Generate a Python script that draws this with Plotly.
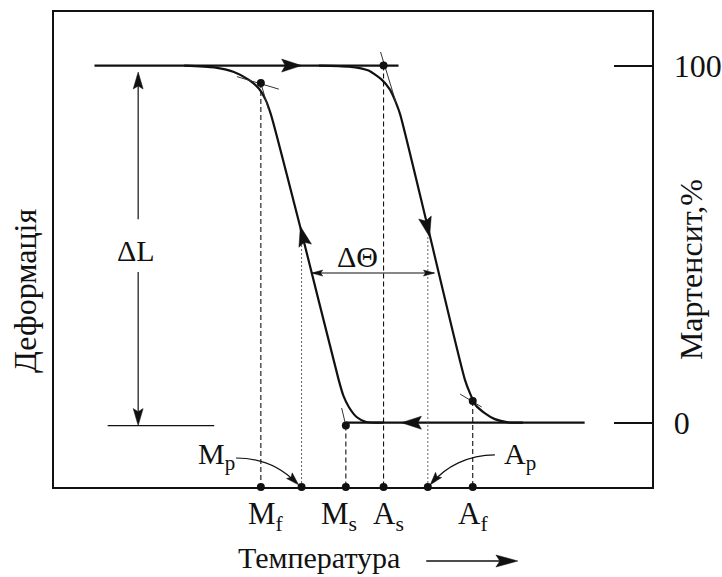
import math
import plotly.graph_objects as go

# ---- transformation temperatures (arbitrary temperature units) ----
T_MF = 34.6   # martensite finish
T_MP = 41.4   # martensite peak
T_MS = 48.8   # martensite start
T_AS = 55.1   # austenite start
T_AP = 62.5   # austenite peak
T_AF = 70.0   # austenite finish

# martensite fraction (%) where each start/finish point sits on the loop
MF_LEVEL = 95.1
MS_LEVEL = -0.8
AS_LEVEL = 100.0
AF_LEVEL = 6.1
PEAK_LEVEL = 52.0

# cooling branch: austenite -> martensite
cool_T = [21.8, 26.8, 30.1, 32.6, 34.3, 35.4, 36.3, 41.3, 47.6, 48.4, 49.3, 50.6, 52.2, 55.1]
cool_M = [100.0, 99.5, 98.2, 96.0, 93.5, 90.4, 86.2, 54.0, 12.0, 7.5, 4.4, 1.6, 0.2, 0.0]

# heating branch: martensite -> austenite
heat_T = [44.3, 49.3, 52.6, 54.7, 56.2, 57.2, 57.9, 62.6, 68.7, 69.6, 70.5, 72.0, 73.7, 75.9, 78.4]
heat_M = [100.0, 99.7, 98.6, 96.2, 93.2, 89.5, 86.2, 54.0, 12.0, 8.0, 4.9, 2.7, 1.0, 0.1, 0.0]

# plateaus: fully martensitic (top) and fully austenitic (bottom)
upper_T = [6.8, 57.6]
upper_M = [100.0, 100.0]
lower_T = [48.8, 88.7]
lower_M = [0.0, 0.0]

# deformation span and hysteresis width
DL_T = 14.1
DL_TOP, DL_BOTTOM = 98.2, -0.8
DL_GAP = (57.0, 42.2)
DL_BASE_T = [9.0, 26.8]
DTH_LEVEL = 41.9
DTH_T = [43.1, 63.6]

# tangent construction lines at the start/finish points
construction = [
    ([30.6, 37.6], [96.9, 93.4]),
    ([34.6, 35.9], [95.1, 87.6]),
    ([54.6, 57.2], [103.8, 89.5]),
    ([48.1, 48.8], [4.1, -0.8]),
    ([67.9, 71.5], [8.0, 4.4]),
]

SERIF = "Liberation Serif, Times New Roman, DejaVu Serif, serif"
INK = "#111111"

W, H = 722, 577
BOX_X = (54, 655)     # plot box, left/right pixel
BOX_Y = (487, 12)     # plot box, bottom/top pixel
X_RANGE = (0.0, 100.0)
Y_RANGE = (-18.0, 115.0)


def to_px(x, y):
    px = BOX_X[0] + (x - X_RANGE[0]) / (X_RANGE[1] - X_RANGE[0]) * (BOX_X[1] - BOX_X[0])
    py = BOX_Y[0] - (y - Y_RANGE[0]) / (Y_RANGE[1] - Y_RANGE[0]) * (BOX_Y[0] - BOX_Y[1])
    return px, py


def to_data(px, py):
    x = X_RANGE[0] + (px - BOX_X[0]) / (BOX_X[1] - BOX_X[0]) * (X_RANGE[1] - X_RANGE[0])
    y = Y_RANGE[0] + (BOX_Y[0] - py) / (BOX_Y[0] - BOX_Y[1]) * (Y_RANGE[1] - Y_RANGE[0])
    return x, y


def head_points(tip_px, tail_px, length, width, notch=0.18):
    tx, ty = tip_px
    bx, by = tail_px
    dx, dy = tx - bx, ty - by
    n = math.hypot(dx, dy)
    ux, uy = dx / n, dy / n
    nx, ny = -uy, ux
    base_x, base_y = tx - ux * length, ty - uy * length
    back_x, back_y = tx - ux * length * (1 - notch), ty - uy * length * (1 - notch)
    return [(tx, ty),
            (base_x + nx * width / 2, base_y + ny * width / 2),
            (back_x, back_y),
            (base_x - nx * width / 2, base_y - ny * width / 2)]


def data_head(tip, tail, length, width):
    pts = head_points(to_px(*tip), to_px(*tail), length, width)
    pts = [to_data(*p) for p in pts]
    path = "M" + " L".join(f"{x:.4f},{y:.4f}" for x, y in pts) + " Z"
    return dict(type="path", xref="x", yref="y", path=path, fillcolor=INK,
                line=dict(color=INK, width=0.5), layer="above")


def paper_head(tip_px, tail_px, length, width):
    pts = head_points(tip_px, tail_px, length, width)
    path = "M" + " L".join(f"{x / W:.5f},{(H - y) / H:.5f}" for x, y in pts) + " Z"
    return dict(type="path", xref="paper", yref="paper", path=path, fillcolor=INK,
                line=dict(color=INK, width=0.5), layer="above")


fig = go.Figure()


def line(xs, ys, width=2.0, dash=None, color=INK):
    fig.add_trace(go.Scatter(x=xs, y=ys, mode="lines", hoverinfo="skip",
                             line=dict(color=color, width=width, dash=dash)))


# plateaus and transformation branches
line(upper_T, upper_M, 2.2)
line(lower_T, lower_M, 2.2)
fig.add_trace(go.Scatter(x=cool_T, y=cool_M, mode="lines", hoverinfo="skip",
                         line=dict(color=INK, width=2.2, shape="spline", smoothing=0.6)))
fig.add_trace(go.Scatter(x=heat_T, y=heat_M, mode="lines", hoverinfo="skip",
                         line=dict(color=INK, width=2.2, shape="spline", smoothing=0.6)))

# construction tangents
for xs, ys in construction:
    line(xs, ys, 1.0, color="#333333")

# drop lines to the temperature axis
y_axis = Y_RANGE[0]
for t, lvl in [(T_MF, MF_LEVEL), (T_MS, MS_LEVEL), (T_AS, AS_LEVEL), (T_AF, AF_LEVEL)]:
    line([t, t], [lvl, y_axis], 1.1, dash="5px,3px")
for t in [T_MP, T_AP]:
    line([t, t], [PEAK_LEVEL, y_axis], 0.9, dash="2px,2px", color="#555555")

# deformation span ΔL
line([DL_T, DL_T], [DL_TOP - 3, DL_GAP[0]], 1.2)
line([DL_T, DL_T], [DL_GAP[1], DL_BOTTOM + 3], 1.2)
line(DL_BASE_T, [DL_BOTTOM, DL_BOTTOM], 1.3)

# hysteresis width ΔΘ
line(DTH_T, [DTH_LEVEL, DTH_LEVEL], 1.1)

# points on the loop and on the temperature axis
fig.add_trace(go.Scatter(x=[T_MF, T_MS, T_AS, T_AF], y=[MF_LEVEL, MS_LEVEL, AS_LEVEL, AF_LEVEL],
                         mode="markers", hoverinfo="skip", cliponaxis=False,
                         marker=dict(color=INK, size=8)))
fig.add_trace(go.Scatter(x=[T_MF, T_MP, T_MS, T_AS, T_AP, T_AF], y=[y_axis] * 6,
                         mode="markers", hoverinfo="skip", cliponaxis=False,
                         marker=dict(color=INK, size=8)))

shapes = [
    # direction of travel around the loop
    data_head((41.4, 100.0), (30.0, 100.0), 20, 13),
    data_head((58.1, 0.0), (70.0, 0.0), 20, 13),
    data_head((41.2, 55.0), (47.6, 12.0), 20, 13),
    data_head((62.8, 52.0), (57.9, 86.2), 20, 13),
    # ΔL
    data_head((DL_T, DL_TOP), (DL_T, DL_GAP[0]), 17, 10),
    data_head((DL_T, DL_BOTTOM), (DL_T, DL_GAP[1]), 17, 10),
    # ΔΘ
    data_head((DTH_T[0], DTH_LEVEL), (DTH_T[1], DTH_LEVEL), 11, 6),
    data_head((DTH_T[1], DTH_LEVEL), (DTH_T[0], DTH_LEVEL), 11, 6),
    # pointers to the peak temperatures
    data_head((40.9, -17.4), (38.4, -13.2), 13, 8),
    data_head((62.9, -17.4), (65.4, -12.4), 13, 8),
    # temperature direction
    paper_head((520, 561), (428, 561), 22, 12),
]
shapes.append(dict(type="path", xref="x", yref="y", layer="above",
                   path="M30.45,-9.88 C35.1,-9.88 38.4,-13.2 40.5,-16.8",
                   line=dict(color=INK, width=1.2)))
shapes.append(dict(type="path", xref="x", yref="y", layer="above",
                   path="M73.7,-9.0 C69.2,-9.0 65.4,-12.4 63.3,-16.8",
                   line=dict(color=INK, width=1.2)))
shapes.append(dict(type="line", xref="paper", yref="paper", layer="above",
                   x0=428 / W, x1=505 / W, y0=(H - 561) / H, y1=(H - 561) / H,
                   line=dict(color=INK, width=1.5)))


def label(text, x, y, size=30, xref="x", yref="y", angle=0, xanchor="center"):
    return dict(text=text, x=x, y=y, xref=xref, yref=yref, showarrow=False,
                textangle=angle, xanchor=xanchor, yanchor="middle",
                font=dict(family=SERIF, size=size, color=INK))


def py_paper(py):
    return (H - py) / H


annotations = [
    label("ΔL", 13.7, 48.3, 30),
    label("ΔΘ", 50.7, 46.6, 30),
    label("M<sub>p</sub>", 30.6, py_paper(456), 30, yref="paper", xanchor="right"),
    label("A<sub>p</sub>", 74.9, py_paper(456), 30, yref="paper", xanchor="left"),
    label("M<sub>f</sub>", 35.4, py_paper(516), 31, yref="paper"),
    label("M<sub>s</sub>", 47.7, py_paper(516), 31, yref="paper"),
    label("A<sub>s</sub>", 56.0, py_paper(516), 31, yref="paper"),
    label("A<sub>f</sub>", 70.1, py_paper(516), 31, yref="paper"),
    label("Температура", 320 / W, py_paper(557), 30, xref="paper", yref="paper"),
    label("Деформація", 25 / W, py_paper(291), 32, xref="paper", yref="paper", angle=-90),
    label("Мартенсит,%", 694 / W, py_paper(270), 32, xref="paper", yref="paper", angle=-90),
]

fig.update_layout(
    width=W, height=H,
    margin=dict(l=0, r=0, t=0, b=0),
    paper_bgcolor="white", plot_bgcolor="white",
    showlegend=False,
    shapes=shapes,
    annotations=annotations,
    xaxis=dict(domain=[BOX_X[0] / W, BOX_X[1] / W], range=list(X_RANGE),
               showline=True, mirror=True, linewidth=2, linecolor=INK,
               showgrid=False, zeroline=False, showticklabels=False, ticks=""),
    yaxis=dict(domain=[(H - BOX_Y[0]) / H, (H - BOX_Y[1]) / H], range=list(Y_RANGE),
               side="right", showline=True, mirror=True, linewidth=2, linecolor=INK,
               showgrid=False, zeroline=False,
               tickvals=[0, 100], ticktext=["0", "100"],
               ticks="inside", ticklen=38, tickwidth=2, tickcolor=INK,
               ticklabelstandoff=13,
               tickfont=dict(family=SERIF, size=32, color=INK)),
)

fig.write_html("out.html")
